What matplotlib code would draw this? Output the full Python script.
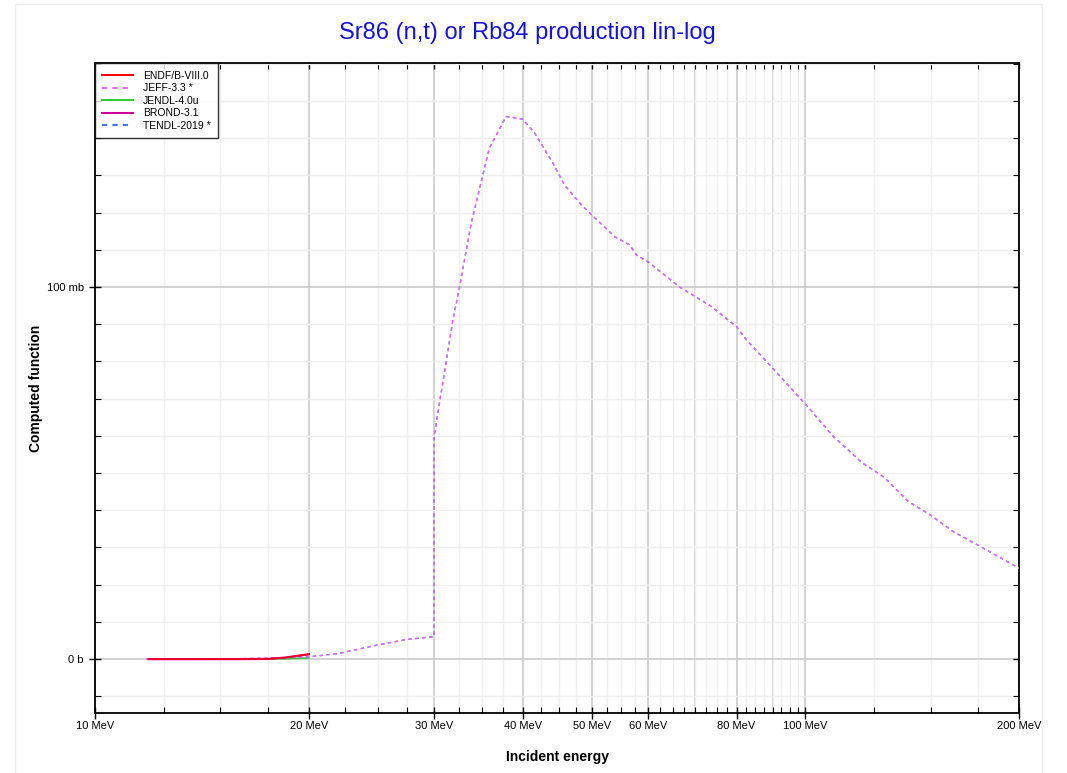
import matplotlib
matplotlib.use("Agg")
import matplotlib.pyplot as plt
import matplotlib.lines as mlines
from matplotlib.patches import Rectangle
from matplotlib.ticker import FixedLocator, NullFormatter

plt.rcParams["font.family"] = ["Liberation Sans", "DejaVu Sans"]

# ---------------- data (energies in MeV, cross sections in mb) ----------------
jeff_e = [11.8, 13.0, 15.0, 17.5, 20.0, 22.0, 25.0, 27.5, 30.0, 30.01,
          31.9, 32.6, 33.85, 35.2, 35.9, 37.9, 40.0, 41.6, 44.1, 45.8,
          48.4, 50.0, 53.9, 56.6, 57.8, 60.0, 66.6, 70.0, 73.8, 80.0,
          82.6, 90.0, 100.0, 109.5, 120.1, 128.8, 139.7, 150.0, 161.7, 175.0, 200.0]
jeff_xs = [0.0, 0.01, 0.05, 0.2, 0.6, 1.5, 3.8, 5.3, 6.0, 59.8,
           91.1, 100.1, 117.1, 130.6, 137.3, 145.8, 145.1, 141.3, 133.3, 127.4,
           122.0, 119.4, 113.5, 111.3, 108.6, 106.8, 99.9, 97.4, 94.7, 89.3,
           85.8, 78.1, 68.5, 59.8, 52.8, 49.0, 42.3, 38.7, 34.2, 30.6, 24.4]
tendl_e = jeff_e
tendl_xs = jeff_xs

endf_e = [11.9, 14.0, 16.0, 17.5, 18.5, 20.0]
endf_xs = [0.0, 0.0, 0.01, 0.05, 0.4, 1.3]
brond_e = endf_e
brond_xs = endf_xs
jendl_e = [12.0, 14.0, 16.0, 17.5, 18.5, 20.0]
jendl_xs = [0.0, 0.0, 0.0, 0.02, 0.1, 0.3]

x_major = [10, 20, 30, 40, 50, 60, 80, 100, 200]
x_labels = ["10 MeV", "20 MeV", "30 MeV", "40 MeV", "50 MeV", "60 MeV",
            "80 MeV", "100 MeV", "200 MeV"]
x_grid_extra = [70, 90]
x_minor = [12.5, 15, 17.5, 22.5, 25, 27.5, 32.5, 35, 37.5, 42.5, 45, 47.5,
           52.5, 55, 57.5, 62.5, 65, 67.5, 70, 72.5, 75, 77.5, 82.5, 85, 87.5,
           90, 92.5, 95, 97.5, 125, 150, 175]
y_major = [0, 100]
y_labels = ["0 b", "100 mb"]
y_minor = [-10, 10, 20, 30, 40, 50, 60, 70, 80, 90, 110, 120, 130, 140, 150, 160]

# ---------------- figure ----------------
W, H = 1067, 773
fig = plt.figure(figsize=(W / 100, H / 100), dpi=100)
fig.add_artist(Rectangle((15 / W, -0.05), (1042 - 15) / W, 1.05 - 4 / H,
                         transform=fig.transFigure, fill=False,
                         edgecolor="#eeeeee", lw=1))
ax = fig.add_axes([95 / W, 1 - 712.7 / H, (1019.3 - 95) / W, (712.7 - 63.3) / H])

ax.set_xscale("log")
ax.set_xlim(10, 200)
ax.set_ylim(-14.4, 160.1)

ax.plot(jendl_e, jendl_xs, color="#33cc33", lw=1.2, label="JENDL-4.0u", zorder=3)
ax.plot(brond_e, brond_xs, color="#cc0099", lw=1.6, label="BROND-3.1", zorder=4)
ax.plot(endf_e, endf_xs, color="#ff0000", lw=1.0, label="ENDF/B-VIII.0", zorder=5)
ax.plot(tendl_e, tendl_xs, color="#4477ee", lw=1.0, dashes=(2.5, 2.5),
        label="TENDL-2019 *", zorder=3)
ax.plot(jeff_e, jeff_xs, color="#ee66ff", lw=1.0, dashes=(2.5, 2.5),
        label="JEFF-3.3 *", zorder=3)

ax.xaxis.set_major_locator(FixedLocator(x_major))
ax.xaxis.set_minor_locator(FixedLocator(x_minor))
ax.set_xticklabels(x_labels)
ax.xaxis.set_minor_formatter(NullFormatter())
ax.yaxis.set_major_locator(FixedLocator(y_major))
ax.yaxis.set_minor_locator(FixedLocator(y_minor))
ax.set_yticklabels(y_labels)

ax.grid(which="major", color="#cccccc", lw=1.2, zorder=0)
ax.grid(which="minor", color="#efefef", lw=1.0, zorder=0)
for e in x_grid_extra:
    ax.axvline(e, color="#cccccc", lw=1.2, zorder=0.5)
ax.set_axisbelow(True)

ax.tick_params(which="major", direction="inout", length=8, width=1,
               labelsize=8, colors="black", pad=4, top=True, right=True)
ax.tick_params(which="minor", direction="in", length=4, width=0.8,
               top=True, right=True)
ax.tick_params(axis="x", which="major", pad=2)
# right/top major ticks point inwards only
for t in ax.yaxis.get_major_ticks():
    t.tick2line.set_marker(mlines.TICKLEFT)
    t.tick2line.set_markersize(4)
for t in ax.xaxis.get_major_ticks():
    t.tick2line.set_marker(mlines.TICKDOWN)
    t.tick2line.set_markersize(4)
for s in ax.spines.values():
    s.set_linewidth(1.3)

ax.set_xlabel("Incident energy", fontsize=10, fontweight="bold", labelpad=14)
ax.set_ylabel("Computed function", fontsize=10, fontweight="bold", labelpad=3)
fig.text(527 / W, 1 - 33 / H, "Sr86 (n,t) or Rb84 production lin-log",
         ha="center", va="center", fontsize=17, color="#1414d8")

h, l = ax.get_legend_handles_labels()
order = ["ENDF/B-VIII.0", "JEFF-3.3 *", "JENDL-4.0u", "BROND-3.1", "TENDL-2019 *"]
hd = dict(zip(l, h))
leg = ax.legend([hd[k] for k in order], order, loc="upper left",
                fontsize=7.5, frameon=True, fancybox=False, borderaxespad=0,
                handlelength=2.9, labelspacing=0.25, borderpad=0.7,
                handletextpad=1.0)
for lh in leg.legend_handles:
    lh.set_linewidth(1.5)
leg.get_frame().set_edgecolor("black")
leg.get_frame().set_linewidth(1.0)

fig.savefig("out.png", dpi=100)
